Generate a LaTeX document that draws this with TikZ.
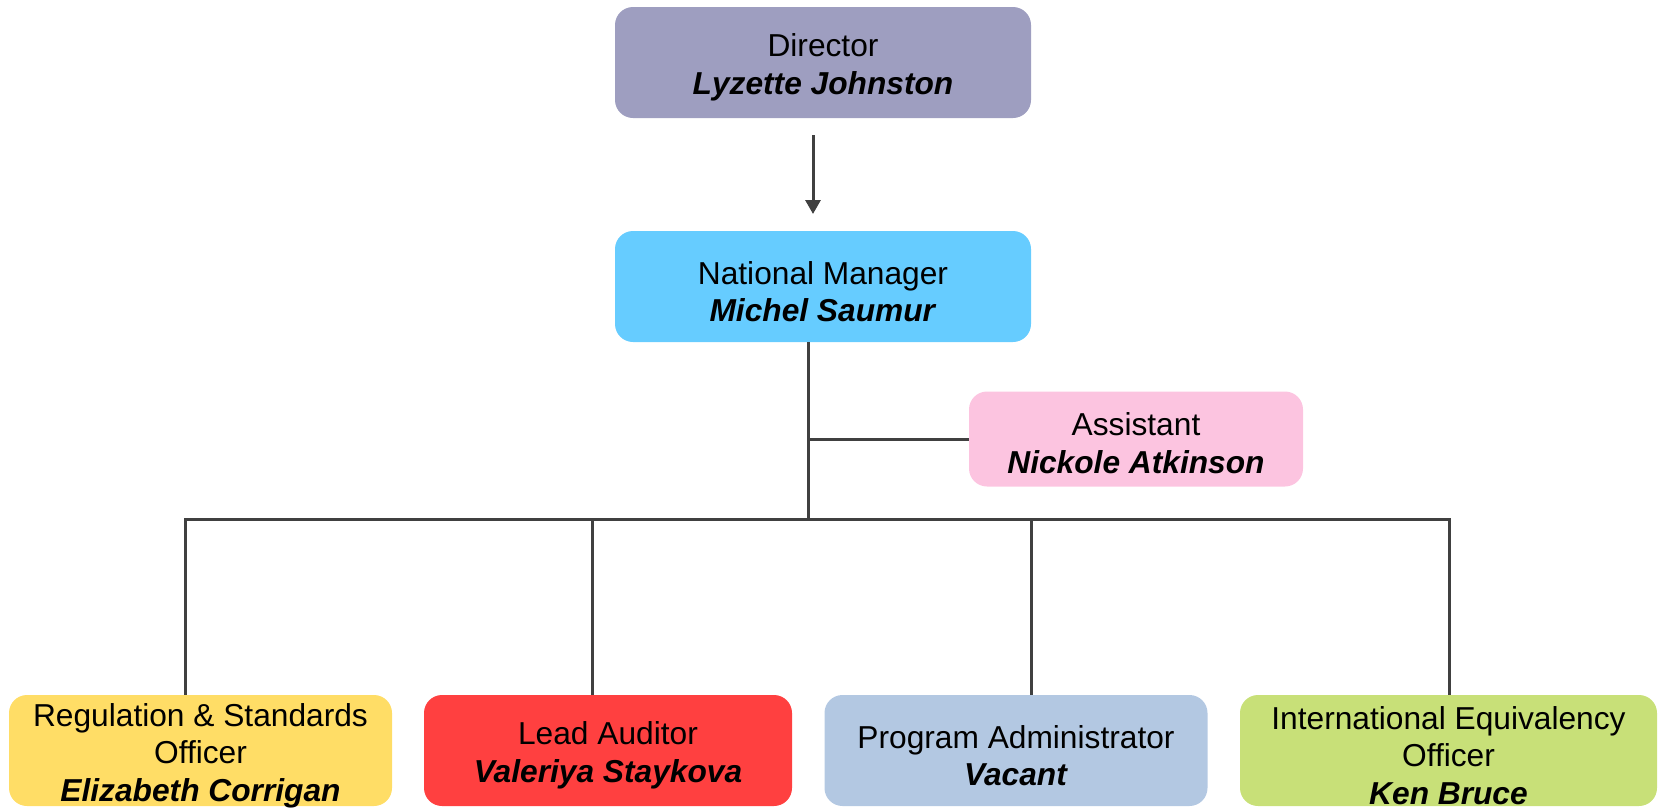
\documentclass[tikz,border=0pt]{standalone}
\usepackage{fontspec}
\setmainfont{Liberation Sans}
\usetikzlibrary{arrows.meta}
\definecolor{cdir}{RGB}{158,158,192}
\definecolor{cnm}{RGB}{102,204,255}
\definecolor{casst}{RGB}{252,196,224}
\definecolor{cyel}{RGB}{255,221,102}
\definecolor{cred}{RGB}{255,64,64}
\definecolor{cblue}{RGB}{179,200,226}
\definecolor{cgreen}{RGB}{200,224,120}
\definecolor{cline}{RGB}{64,64,64}
\tikzset{
  orgbox/.style={rounded corners=18pt, inner sep=0pt},
  orgtext/.style={inner sep=0pt, align=center,
    font=\fontsize{31.7}{37.5}\selectfont, text=black},
  link/.style={draw=cline, line width=3pt},
}
\newcommand{\nm}[1]{\textbf{\textit{#1}}}
\begin{document}
\begin{tikzpicture}[x=1pt,y=-1pt]
\useasboundingbox (0,0) rectangle (1660,807);
\node[orgbox, fill=cdir, minimum width=416pt, minimum height=111pt] (dir) at (823,62.5) {};
\node[orgbox, fill=cnm, minimum width=416pt, minimum height=111pt] (nat) at (823,286.5) {};
\node[orgbox, fill=casst, minimum width=334pt, minimum height=95pt] (asst) at (1136,439) {};
\node[orgbox, fill=cyel, minimum width=383pt, minimum height=111pt] (b1) at (200.5,750.5) {};
\node[orgbox, fill=cred, minimum width=368pt, minimum height=111pt] (b2) at (608,750.5) {};
\node[orgbox, fill=cblue, minimum width=383pt, minimum height=111pt] (b3) at (1016,750.5) {};
\node[orgbox, fill=cgreen, minimum width=417pt, minimum height=111pt] (b4) at (1448.5,750.5) {};
\node[orgtext] (dirT) at ([yshift=-5pt]dir.center) {Director\\\nm{Lyzette Johnston}};
\node[orgtext] (natT) at ([yshift=-5pt]nat.center) {National Manager\\\nm{Michel Saumur}};
\node[orgtext] (asstT) at ([yshift=-4pt]asst.center) {Assistant\\\nm{Nickole Atkinson}};
\node[orgtext] (b1T) at ([yshift=-5pt]b1.center) {Regulation \& Standards\\Officer\\\nm{Elizabeth Corrigan}};
\node[orgtext] (b2T) at ([yshift=-5pt]b2.center) {Lead Auditor\\\nm{Valeriya Staykova}};
\node[orgtext] (b3T) at ([yshift=-5pt]b3.center) {Program Administrator\\\nm{Vacant}};
\node[orgtext] (b4T) at ([yshift=-5pt]b4.center) {International Equivalency\\Officer\\\nm{Ken Bruce}};
\coordinate (arrS) at (813,135);
\coordinate (arrE) at (813,214);
\coordinate (hub) at (808,519);
\coordinate (d1) at (185,519);
\coordinate (d2) at (592,519);
\coordinate (d3) at (1031,519);
\coordinate (d4) at (1449,519);
\draw[draw=cline, line width=3pt, -{Triangle[length=14pt,width=15pt]}] (arrS) -- (arrE);
\draw[link] (hub |- nat.south) -- (hub);
\draw[link] (hub |- asst.west) -- (asst.west);
\draw[link, line cap=rect] (d1) -- (d4);
\draw[link] (d1) -- (d1 |- b1.north);
\draw[link] (d2) -- (d2 |- b2.north);
\draw[link] (d3) -- (d3 |- b3.north);
\draw[link] (d4) -- (d4 |- b4.north);
\end{tikzpicture}
\end{document}
